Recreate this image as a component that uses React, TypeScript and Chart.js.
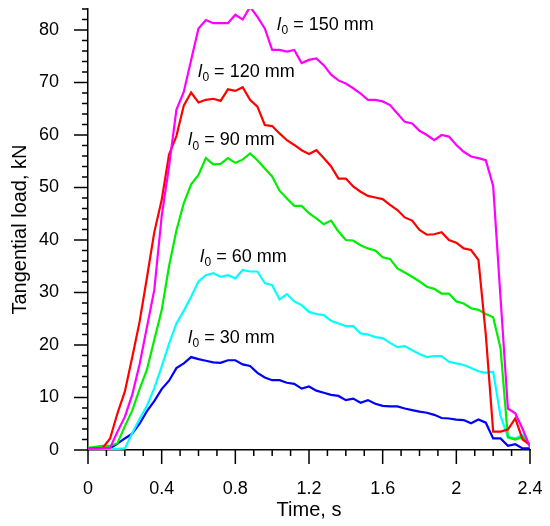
import { useEffect, useRef } from 'react';
import { Chart, registerables } from 'chart.js';

Chart.register(...registerables);

const timeS = [
  0, 0.04, 0.08, 0.12, 0.16, 0.2, 0.24, 0.28, 0.32, 0.36,
  0.4, 0.44, 0.48, 0.52, 0.56, 0.6, 0.64, 0.68, 0.72, 0.76,
  0.8, 0.84, 0.88, 0.92, 0.96, 1.0, 1.04, 1.08, 1.12, 1.16,
  1.2, 1.24, 1.28, 1.32, 1.36, 1.4, 1.44, 1.48, 1.52, 1.56,
  1.6, 1.64, 1.68, 1.72, 1.76, 1.8, 1.84, 1.88, 1.92, 1.96,
  2.0, 2.04, 2.08, 2.12, 2.16, 2.2, 2.24, 2.28, 2.32, 2.36, 2.4,
];

const load150 = [
  0.3, 0.3, 0.3, 0.4, 3.5, 6.3, 10.5, 16.3, 23.4, 30.5,
  44.5, 54.0, 64.8, 68.2, 74.3, 80.3, 81.9, 81.3, 81.3, 81.3,
  82.9, 82.0, 84.4, 82.5, 80.3, 76.2, 76.2, 75.9, 76.2, 73.7,
  74.3, 74.6, 73.3, 71.5, 70.4, 69.8, 68.9, 67.9, 66.7, 66.7,
  66.4, 65.7, 64.1, 62.5, 62.2, 60.8, 60.0, 59.0, 60.0, 59.7,
  58.1, 56.8, 55.9, 55.6, 55.2, 50.3, 29.0, 7.9, 7.0, 4.0, 0.6,
];

const load120 = [
  0.3, 0.3, 0.4, 2.2, 7.0, 11.1, 17.6, 24.4, 32.8, 41.5,
  47.6, 56.3, 59.8, 65.6, 68.1, 66.2, 66.7, 66.9, 66.5, 68.7,
  68.4, 69.1, 66.7, 65.4, 61.9, 61.7, 60.3, 59.0, 58.1, 57.1,
  56.4, 57.1, 55.6, 54.0, 51.7, 51.7, 50.2, 49.2, 48.4, 48.1,
  47.8, 46.7, 45.7, 44.3, 43.7, 41.9, 41.0, 41.1, 41.5, 40.0,
  39.5, 38.4, 38.1, 36.2, 22.0, 3.5, 3.5, 3.9, 6.0, 2.0, 1.0,
];

const load90 = [
  0.4, 0.6, 0.8, 0.8, 1.3, 4.5, 7.5, 11.6, 15.3, 21.0,
  26.6, 35.0, 41.8, 47.0, 50.6, 52.4, 55.6, 54.4, 54.5, 55.6,
  54.7, 55.3, 56.5, 55.2, 53.6, 52.1, 49.4, 47.9, 46.5, 46.5,
  45.1, 44.1, 43.0, 43.7, 41.6, 40.0, 39.9, 39.0, 38.4, 38.0,
  36.7, 36.4, 34.6, 33.8, 33.0, 32.1, 31.1, 30.7, 29.8, 29.8,
  28.3, 27.9, 27.0, 26.7, 25.9, 25.3, 19.4, 2.4, 2.0, 2.5, 1.0,
];

const load60 = [
  0.2, 0.2, 0.2, 0.2, 0.2, 0.3, 3.2, 5.9, 8.4, 11.8,
  15.9, 20.2, 24.1, 26.5, 29.2, 32.1, 33.3, 33.7, 33.0, 33.3,
  32.7, 34.3, 34.0, 34.0, 31.8, 31.4, 28.7, 29.7, 28.3, 27.6,
  26.3, 25.9, 25.7, 24.6, 24.1, 23.6, 23.6, 22.2, 22.0, 21.5,
  21.3, 20.4, 19.6, 19.8, 19.0, 18.3, 17.7, 17.9, 17.9, 16.8,
  16.5, 16.2, 15.6, 15.0, 14.7, 14.9, 6.5, 2.5, 2.2, 2.9, 0.6,
];

const load30 = [
  0.3, 0.3, 0.3, 0.3, 1.2, 2.2, 3.1, 5.0, 7.4, 9.3,
  11.6, 13.2, 15.6, 16.5, 17.7, 17.3, 17.0, 16.7, 16.6, 17.1,
  17.1, 16.3, 16.0, 14.7, 13.8, 13.3, 13.3, 12.8, 12.6, 11.7,
  12.1, 11.3, 10.9, 10.5, 10.3, 9.5, 9.8, 9.0, 9.5, 8.8,
  8.4, 8.3, 8.3, 7.9, 7.6, 7.3, 7.1, 6.7, 6.1, 6.0,
  5.8, 5.7, 5.1, 5.8, 5.2, 2.2, 2.2, 0.8, 1.1, 0.3, 0.3,
];

const seriesNames = ['150', '120', '90', '60', '30'];
const seriesColors = ['#ff00ff', '#ff0000', '#00ee00', '#00ffff', '#0000ff'];
const seriesValues = [load150, load120, load90, load60, load30];

// label anchor points (time, load) for the l0 annotations
const labelTime = [1.026, 0.597, 0.543, 0.608, 0.543];
const labelLoad = [81.0, 72.0, 59.0, 36.8, 21.3];

const FONT = '"Liberation Sans", Arial, sans-serif';

const overlay = {
  id: 'overlay',
  afterDraw(chart: any) {
    const ctx: CanvasRenderingContext2D = chart.ctx;
    const area = chart.chartArea;
    const xs = chart.scales.x;
    const ys = chart.scales.y;
    ctx.save();
    ctx.fillStyle = '#000';
    const xt: any[] = xs.ticks || [];
    const yt: any[] = ys.ticks || [];
    for (let i = 0; i < xt.length; i++) {
      const v = Number(xt[i].value);
      const px = xs.getPixelForValue(v);
      const major = Math.round(v * 10) % 4 === 0;
      ctx.fillRect(px - 0.75, area.bottom, 1.5, major ? 14 : 6);
    }
    for (let i = 0; i < yt.length; i++) {
      const v = Number(yt[i].value);
      const py = ys.getPixelForValue(v);
      const major = Math.round(v) % 10 === 0;
      const len = major ? 14 : 6;
      ctx.fillRect(area.left - len, py - 0.75, len, 1.5);
    }
    ctx.restore();
  },
  afterDatasetsDraw(chart: any) {
    const { ctx } = chart;
    const xs = chart.scales.x;
    const ys = chart.scales.y;
    ctx.save();
    ctx.fillStyle = '#000';
    ctx.textBaseline = 'middle';
    ctx.textAlign = 'left';
    seriesNames.forEach((name, i) => {
      let x = xs.getPixelForValue(labelTime[i]);
      const y = ys.getPixelForValue(labelLoad[i]);
      ctx.font = `italic 18px ${FONT}`;
      ctx.fillText('l', x, y);
      x += ctx.measureText('l').width + 0.5;
      ctx.font = `12px ${FONT}`;
      ctx.fillText('0', x, y + 6);
      x += ctx.measureText('0').width;
      ctx.font = `18px ${FONT}`;
      ctx.fillText(` = ${name} mm`, x, y);
    });
    ctx.restore();
  },
};

function zeroPad(scale: any) {
  scale.paddingTop = 0;
  scale.paddingBottom = 0;
  scale.paddingLeft = 0;
  scale.paddingRight = 0;
}

export default function App() {
  const ref = useRef<HTMLCanvasElement>(null);
  useEffect(() => {
    document.body.style.margin = '0';
    const canvas = ref.current;
    if (!canvas) return;
    Chart.defaults.font.family = FONT;
    Chart.defaults.color = '#000';
    const chart = new Chart(canvas, {
      type: 'line',
      data: {
        datasets: seriesNames.map((name, i) => ({
          label: `l0 = ${name} mm`,
          data: timeS.map((t, j) => ({ x: t, y: seriesValues[i][j] })),
          borderColor: seriesColors[i],
          backgroundColor: seriesColors[i],
          borderWidth: 2.2,
          pointRadius: 0,
          tension: 0,
          fill: false,
        })),
      },
      options: {
        responsive: false,
        animation: false,
        events: [],
        layout: { padding: { top: 9, right: 20, left: 0, bottom: 0 } },
        plugins: { legend: { display: false }, tooltip: { enabled: false } },
        scales: {
          x: {
            type: 'linear',
            min: 0,
            max: 2.4,
            afterFit(scale: any) { scale.height = 76; zeroPad(scale); },
            border: { display: true, color: '#000', width: 1.5 },
            grid: { display: true, drawOnChartArea: false, drawTicks: false },
            ticks: {
              stepSize: 0.1,
              padding: 28,
              maxRotation: 0,
              autoSkip: false,
              font: { size: 18 },
              color: '#000',
              callback: (v: any) => {
                const k = Math.round(Number(v) * 10);
                return k % 4 === 0 ? String(Number(Number(v).toFixed(1))) : '';
              },
            },
            title: {
              display: true,
              text: 'Time, s',
              font: { size: 20 },
              color: '#000',
              padding: { top: 0, bottom: 4 },
            },
          },
          y: {
            type: 'linear',
            min: 0,
            max: 84,
            afterFit(scale: any) { scale.width = 88; zeroPad(scale); },
            border: { display: true, color: '#000', width: 1.5 },
            grid: { display: true, drawOnChartArea: false, drawTicks: false },
            ticks: {
              stepSize: 2,
              padding: 29,
              autoSkip: false,
              font: { size: 18 },
              color: '#000',
              callback: (v: any) => (Math.round(Number(v)) % 10 === 0 ? String(Math.round(Number(v))) : ''),
            },
            title: {
              display: true,
              text: 'Tangential load, kN',
              font: { size: 20 },
              color: '#000',
              padding: { top: 8, bottom: 0 },
            },
          },
        },
      },
      plugins: [overlay],
    });
    return () => chart.destroy();
  }, []);
  return (
    <div style={{ width: 550, height: 526 }}>
      <canvas ref={ref} width={550} height={526} style={{ display: 'block' }} />
    </div>
  );
}
